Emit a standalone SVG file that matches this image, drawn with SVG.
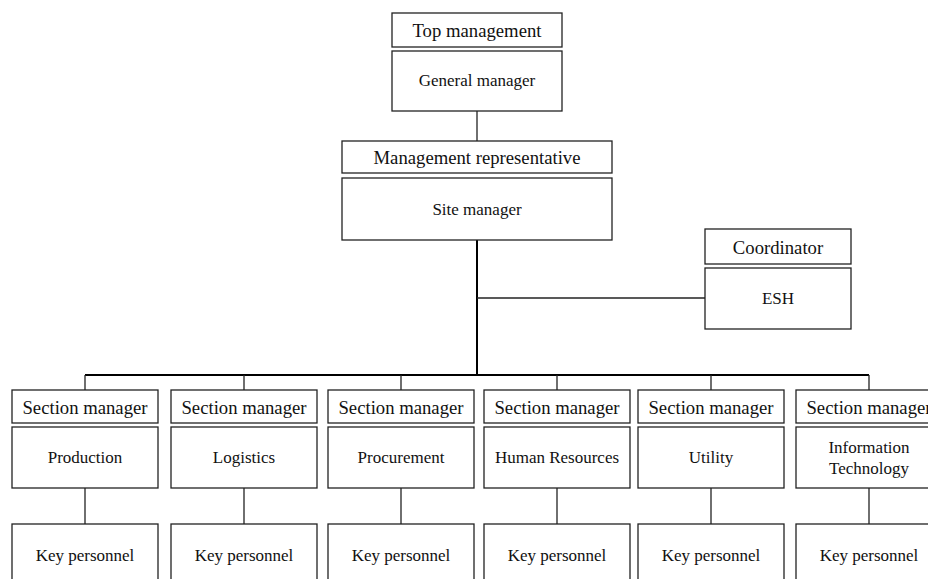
<svg xmlns="http://www.w3.org/2000/svg" width="928" height="579" viewBox="0 0 928 579">
<style>
.box{fill:#fff;stroke:#222;stroke-width:1.3}
.hd{font-family:"Liberation Serif","Times New Roman",serif;font-size:18.7px;fill:#111;text-anchor:middle}
.tx{font-family:"Liberation Serif","Times New Roman",serif;font-size:17px;fill:#111;text-anchor:middle}
.ln{stroke:#222;stroke-width:1.3;fill:none}
.tk{stroke:#000;stroke-width:2;fill:none}
</style>
<rect width="928" height="579" fill="#fff"/>
<g id="connectors">
<line class="ln" x1="477" y1="111" x2="477" y2="141"/>
<line class="tk" x1="477" y1="240" x2="477" y2="376"/>
<line class="ln" x1="477" y1="298" x2="705" y2="298"/>
<line class="tk" x1="85" y1="375" x2="869" y2="375"/>
<line class="ln" x1="85" y1="375" x2="85" y2="390"/>
<line class="ln" x1="244" y1="375" x2="244" y2="390"/>
<line class="ln" x1="401" y1="375" x2="401" y2="390"/>
<line class="ln" x1="557" y1="375" x2="557" y2="390"/>
<line class="ln" x1="711" y1="375" x2="711" y2="390"/>
<line class="ln" x1="869" y1="375" x2="869" y2="390"/>
<line class="ln" x1="85" y1="488" x2="85" y2="524"/>
<line class="ln" x1="244" y1="488" x2="244" y2="524"/>
<line class="ln" x1="401" y1="488" x2="401" y2="524"/>
<line class="ln" x1="557" y1="488" x2="557" y2="524"/>
<line class="ln" x1="711" y1="488" x2="711" y2="524"/>
<line class="ln" x1="869" y1="488" x2="869" y2="524"/>
</g>
<g id="general-manager">
<rect class="box" x="392" y="13" width="170" height="34"/>
<text class="hd" x="477" y="37">Top management</text>
<rect class="box" x="392" y="51" width="170" height="60"/>
<text class="tx" x="477" y="86">General manager</text>
</g>
<g id="site-manager">
<rect class="box" x="342" y="141" width="270" height="32"/>
<text class="hd" x="477" y="164">Management representative</text>
<rect class="box" x="342" y="178" width="270" height="62"/>
<text class="tx" x="477" y="215">Site manager</text>
</g>
<g id="esh">
<rect class="box" x="705" y="229" width="146" height="35"/>
<text class="hd" x="778" y="254">Coordinator</text>
<rect class="box" x="705" y="268" width="146" height="61"/>
<text class="tx" x="778" y="304">ESH</text>
</g>
<g id="production">
<rect class="box" x="12" y="390" width="146" height="33"/>
<text class="hd" x="85" y="414">Section manager</text>
<rect class="box" x="12" y="427" width="146" height="61"/>
<text class="tx" x="85" y="463">Production</text>
</g>
<g id="logistics">
<rect class="box" x="171" y="390" width="146" height="33"/>
<text class="hd" x="244" y="414">Section manager</text>
<rect class="box" x="171" y="427" width="146" height="61"/>
<text class="tx" x="244" y="463">Logistics</text>
</g>
<g id="procurement">
<rect class="box" x="328" y="390" width="146" height="33"/>
<text class="hd" x="401" y="414">Section manager</text>
<rect class="box" x="328" y="427" width="146" height="61"/>
<text class="tx" x="401" y="463">Procurement</text>
</g>
<g id="human-resources">
<rect class="box" x="484" y="390" width="146" height="33"/>
<text class="hd" x="557" y="414">Section manager</text>
<rect class="box" x="484" y="427" width="146" height="61"/>
<text class="tx" x="557" y="463">Human Resources</text>
</g>
<g id="utility">
<rect class="box" x="638" y="390" width="146" height="33"/>
<text class="hd" x="711" y="414">Section manager</text>
<rect class="box" x="638" y="427" width="146" height="61"/>
<text class="tx" x="711" y="463">Utility</text>
</g>
<g id="information-technology">
<rect class="box" x="796" y="390" width="146" height="33"/>
<text class="hd" x="869" y="414">Section manager</text>
<rect class="box" x="796" y="427" width="146" height="61"/>
<text class="tx" x="869" y="453">Information</text>
<text class="tx" x="869" y="474">Technology</text>
</g>
<g id="key-personnel-1">
<rect class="box" x="12" y="524" width="146" height="70"/>
<text class="tx" x="85" y="561">Key personnel</text>
</g>
<g id="key-personnel-2">
<rect class="box" x="171" y="524" width="146" height="70"/>
<text class="tx" x="244" y="561">Key personnel</text>
</g>
<g id="key-personnel-3">
<rect class="box" x="328" y="524" width="146" height="70"/>
<text class="tx" x="401" y="561">Key personnel</text>
</g>
<g id="key-personnel-4">
<rect class="box" x="484" y="524" width="146" height="70"/>
<text class="tx" x="557" y="561">Key personnel</text>
</g>
<g id="key-personnel-5">
<rect class="box" x="638" y="524" width="146" height="70"/>
<text class="tx" x="711" y="561">Key personnel</text>
</g>
<g id="key-personnel-6">
<rect class="box" x="796" y="524" width="146" height="70"/>
<text class="tx" x="869" y="561">Key personnel</text>
</g>
</svg>
